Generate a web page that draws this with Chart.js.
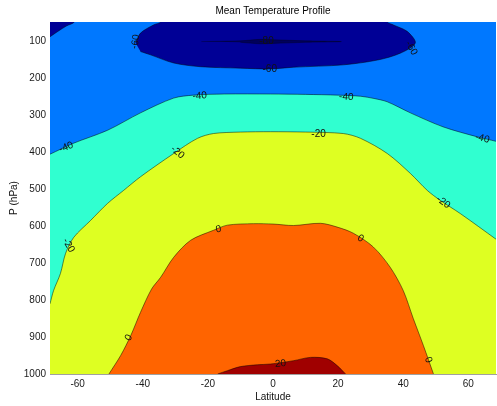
<!DOCTYPE html>
<html>
<head>
<meta charset="utf-8">
<script src="https://cdn.jsdelivr.net/npm/chart.js@4/dist/chart.umd.min.js"></script>
<style>
  html, body { margin: 0; padding: 0; background: #ffffff; }
  canvas { display: block; }
</style>
</head>
<body>
<canvas id="chart" width="497" height="406"></canvas>
<script>
// ---------------- data ----------------
const chartTitle = 'Mean Temperature Profile';
const xAxisLabel = 'Latitude';
const yAxisLabel = 'P (hPa)';
const latRange = [-68.5, 68.5];
const pressureRange = [47, 1000];
const latTicks = [-60, -40, -20, 0, 20, 40, 60];
const pressureTicks = [100, 200, 300, 400, 500, 600, 700, 800, 900, 1000];

// contour lines, as [latitude, pressure] pairs
const contourMinus40 = [[-68.5,405],[-61.2,375],[-50.8,340],[-40.7,293],[-30.5,253],[-24.4,245],[-15,242],[-0.8,242],[10,243],[20,245],[26.9,248],[31,254],[35.1,263],[42.2,293],[52.3,331],[62.8,358],[68.5,370]];
const contourMinus20 = [[-68.5,810],[-67.4,774],[-65.3,728],[-63.7,673],[-61.2,630],[-56,584],[-50.8,538],[-45.9,503],[-40.7,466],[-30.5,403],[-23.2,362],[-18.3,349],[-10,345],[-0.8,344],[10,345],[21.6,349],[26.9,362],[35.1,403],[42.2,457],[47.4,503],[51.4,530],[57.6,566],[68.5,635]];
const contour0 = [[-50.4,1000],[-46.8,950],[-43.7,896],[-40.7,833],[-37.3,770],[-34.5,738],[-30.5,684],[-25.3,638],[-18.3,611],[-14,597],[-6,593],[0,594],[6.3,598],[14.6,592],[20,603],[24.7,619],[30.8,656],[36,711],[40,774],[43.1,850],[46.2,923],[49.3,1000]];
const contour20 = [[-17,1000],[-14,991],[-10,980],[-4.8,975],[-0.8,973],[6.3,964],[11.5,955],[16.7,959],[19.8,978],[22.3,1000]];
// closed -60 contours (touching the top edge)
const contourMinus60Corner = [[-68.5,87],[-66,72],[-63.5,58],[-61,47],[-61,30],[-75,30],[-75,87]];
const contourMinus60Core = [[-42.2,104],[-40.7,77],[-36.7,55],[-34.5,47],[-34.5,30],[35.1,30],[35.1,47],[37,55],[41.3,73],[43.7,104],[39.1,131.5],[32.1,150],[21.6,163],[6.3,169.5],[-0.8,174],[-10,172],[-22.3,168],[-30.5,158],[-37.6,136],[-40.7,127]];
// closed -80 contour (thin core)
const contourMinus80Core = [[-22,100],[-10,98],[-4,94],[0,95],[10,98],[21,100],[10,102],[0,105],[-4,106],[-10,102]];

// contour labels: [text, latitude, pressure, rotation in degrees]
const contourLabels = [
  ['-60', -42.2, 100, -80],
  ['-80', -2, 100, 0],
  ['-60', -1, 174, 0],
  ['-60', 42.5, 118, 60],
  ['-40', -63.5, 386, -22],
  ['-40', -22.5, 247, -4],
  ['-40', 22.5, 250, 4],
  ['-40', 64.3, 362, 15],
  ['-20', -62.8, 652, 60],
  ['-20', -29.3, 400, 40],
  ['-20', 14, 350, 0],
  ['-20', 52.3, 535, 35],
  ['0', -16.7, 608, -10],
  ['0', 26.9, 633, 30],
  ['0', -44.3, 902, -60],
  ['0', 47.7, 962, 70],
  ['20', 2.3, 972, -5]
];

// ---------------- styles ----------------
const FONT = '"Liberation Sans", Arial, Helvetica, sans-serif';
const colBlue = '#0078FF';
const colNavy = '#000096';
const colDeep = '#00005A';
const colCyan = '#30FFD0';
const colYellow = '#DEFF22';
const colOrange = '#FF6400';
const colDarkRed = '#A00000';
const lineCol = 'rgba(0,0,0,0.6)';

const toPts = arr => arr.map(([lat, p]) => ({x: lat, y: p}));

// bottom-to-top draw order
const layers = [
  {data: contourMinus40, fill: {value: pressureRange[1]}, bg: colCyan},
  {data: contourMinus20, fill: {value: pressureRange[1]}, bg: colYellow},
  {data: contour0, fill: {value: pressureRange[1]}, bg: colOrange},
  {data: contour20, fill: {value: pressureRange[1]}, bg: colDarkRed},
  {data: contourMinus60Corner, fill: 'shape', bg: colNavy},
  {data: contourMinus60Core, fill: 'shape', bg: colNavy},
  {data: contourMinus80Core, fill: 'shape', bg: colDeep, bw: 0.5}
];

const datasets = layers.map((l, i) => ({
  data: toPts(l.data),
  showLine: true,
  fill: l.fill,
  backgroundColor: l.bg,
  borderColor: lineCol,
  borderWidth: l.bw !== undefined ? l.bw : 0.8,
  pointRadius: 0,
  pointHoverRadius: 0,
  tension: 0.3,
  order: layers.length - i
}));

const plotBackground = {
  id: 'plotBackground',
  beforeDatasetsDraw(chart) {
    const {ctx, chartArea: a} = chart;
    ctx.save();
    ctx.fillStyle = colBlue;
    ctx.fillRect(a.left, a.top, a.right - a.left, a.bottom - a.top);
    ctx.restore();
  }
};

const contourLabelPlugin = {
  id: 'contourLabelPlugin',
  afterDatasetsDraw(chart) {
    const {ctx, chartArea: a, scales: {x, y}} = chart;
    ctx.save();
    ctx.beginPath();
    ctx.rect(a.left, a.top, a.right - a.left, a.bottom - a.top);
    ctx.clip();
    ctx.font = '10px ' + FONT;
    ctx.fillStyle = '#111';
    ctx.textAlign = 'center';
    ctx.textBaseline = 'middle';
    contourLabels.forEach(([text, lat, p, rot]) => {
      ctx.save();
      ctx.translate(x.getPixelForValue(lat), y.getPixelForValue(p));
      ctx.rotate(rot * Math.PI / 180);
      ctx.fillText(text, 0, 0);
      ctx.restore();
    });
    ctx.restore();
  }
};

new Chart(document.getElementById('chart'), {
  type: 'scatter',
  data: {datasets},
  plugins: [plotBackground, contourLabelPlugin],
  options: {
    responsive: false,
    animation: false,
    events: [],
    layout: {padding: {left: 0, right: 1, top: 0, bottom: 0}},
    plugins: {
      legend: {display: false},
      tooltip: {enabled: false},
      title: {
        display: true,
        text: chartTitle,
        fullSize: false,
        color: '#000',
        font: {family: FONT, size: 10, weight: 'normal'},
        padding: {top: 5, bottom: 5}
      }
    },
    scales: {
      x: {
        type: 'linear',
        min: latRange[0],
        max: latRange[1],
        afterBuildTicks: s => { s.ticks = latTicks.map(v => ({value: v})); },
        afterFit: s => { s.height = 32; },
        grid: {display: false, drawTicks: false},
        border: {display: true, color: '#a0a0a0', width: 1},
        ticks: {padding: 4, color: '#1a1a1a', font: {family: FONT, size: 10}, maxRotation: 0, autoSkip: false, callback: v => String(v)},
        title: {display: true, text: xAxisLabel, color: '#111', font: {family: FONT, size: 10}, padding: {top: 0, bottom: 3}}
      },
      y: {
        type: 'linear',
        reverse: true,
        min: pressureRange[0],
        max: pressureRange[1],
        afterBuildTicks: s => { s.ticks = pressureTicks.map(v => ({value: v})); },
        afterFit: s => { s.width = 50; },
        grid: {display: false, drawTicks: false},
        border: {display: true, color: '#a0a0a0', width: 1},
        ticks: {padding: 4, color: '#1a1a1a', font: {family: FONT, size: 10}, autoSkip: false, callback: v => String(v)},
        title: {display: true, text: yAxisLabel, color: '#111', font: {family: FONT, size: 10}, padding: {top: 8, bottom: 0}}
      }
    }
  }
});
</script>
</body>
</html>
